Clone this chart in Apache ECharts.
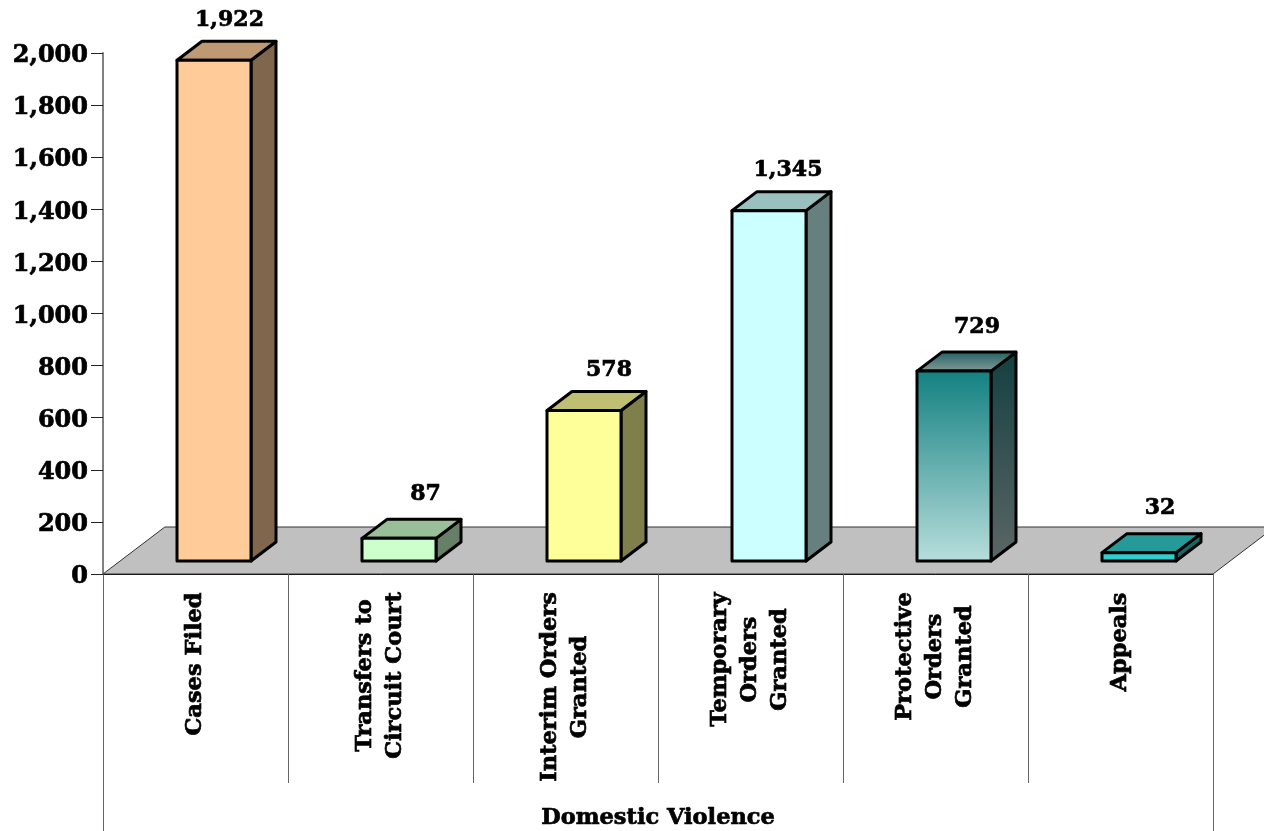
<!DOCTYPE html>
<html>
<head>
<meta charset="utf-8">
<style>html,body{margin:0;padding:0;background:#fff}#chart{width:1264px;height:831px}</style>
<script src="https://cdn.jsdelivr.net/npm/echarts@6/dist/echarts.min.js"></script>
</head>
<body>
<div id="chart"></div>
<script>
var categories = [
  ['Cases Filed'],
  ['Transfers to', 'Circuit Court'],
  ['Interim Orders', 'Granted'],
  ['Temporary', 'Orders', 'Granted'],
  ['Protective', 'Orders', 'Granted'],
  ['Appeals']
];
var values = [1922, 87, 578, 1345, 729, 32];
var groupLabel = ['Domestic Violence'];
var yTicks = { min: 0, max: 2000, step: 200 };
var frontColors = ['#FFCC99', '#CCFFCC', '#FFFF99', '#CCFFFF', null, '#33CCCC'];
var topColors = ['#BF9973', '#99BF99', '#BFBF73', '#99BFBF', null, '#269999'];
var sideColors = ['#7F664C', '#667F66', '#7F7F4C', '#667F7F', null, '#196666'];
var labelShiftX = [15.5, 26.5, 25, 19, 23, 21];
var labelGap = [21, 25, 21, 21, 25, 25];

var FONT = '"DejaVu Serif"';
var axisFontSize = 24;
var valueFontSize = 22;
var catFontSize = 22.5;
var heavy = 0.7;
var depthX = 25, depthY = 19, floorLift = 13, barShift = 18.5, barW = 74, floorDepth = 47;

function vgrad(a, b) {
  return new echarts.graphic.LinearGradient(0, 0, 0, 1, [{offset: 0, color: a}, {offset: 1, color: b}]);
}
function fmt(v) { return String(v).replace(/\B(?=(\d{3})+$)/g, ','); }

var measureCtx = document.createElement('canvas').getContext('2d');
function textWidth(s) {
  measureCtx.font = 'bold ' + catFontSize + 'px ' + FONT;
  return Math.ceil(measureCtx.measureText(s).width);
}
var rich = {};
categories.forEach(function (lines, i) {
  rich['c' + i] = {
    width: Math.max.apply(null, lines.map(textWidth)) + 2,
    align: 'center',
    fontFamily: FONT, fontWeight: 'bold', fontSize: catFontSize, color: '#000', lineHeight: 30,
    textBorderColor: '#000', textBorderWidth: heavy
  };
});
var catNames = categories.map(function (l) { return l.join('\n'); });

var option = {
  animation: false,
  backgroundColor: '#fff',
  grid: { left: 103, top: 53, width: 1110, height: 521, containLabel: false },
  xAxis: [{
    type: 'category',
    data: catNames,
    boundaryGap: true,
    position: 'bottom',
    axisLine: { show: true, lineStyle: { color: '#000', width: 1 } },
    axisTick: { show: true, length: 209, lineStyle: { color: '#666', width: 1 } },
    axisLabel: {
      interval: 0, rotate: 90, align: 'right', verticalAlign: 'middle', margin: 17,
      formatter: function (name) {
        var i = catNames.indexOf(name);
        return categories[i].map(function (s) { return '{c' + i + '|' + s + '}'; }).join('\n');
      },
      rich: rich
    }
  }, {
    type: 'category',
    data: groupLabel,
    position: 'bottom',
    axisLine: { show: false },
    axisTick: { show: true, length: 257, lineStyle: { color: '#666', width: 1 } },
    axisLabel: {
      margin: 233, color: '#000',
      fontFamily: FONT, fontWeight: 'bold', fontSize: catFontSize,
      textBorderColor: '#000', textBorderWidth: heavy
    }
  }],
  yAxis: {
    type: 'value',
    min: yTicks.min, max: yTicks.max, interval: yTicks.step,
    axisLine: { show: true, lineStyle: { color: '#808080', width: 2 } },
    axisTick: { show: true, length: 12, lineStyle: { color: '#222', width: 1 } },
    splitLine: { show: false },
    axisLabel: {
      margin: 15,
      formatter: function (v) { return '{n|' + fmt(v) + '}'; },
      rich: {
        n: {
          color: '#000', fontFamily: FONT, fontWeight: 'bold', fontSize: axisFontSize,
          padding: [6, 0, 0, 0],
          textBorderColor: '#000', textBorderWidth: heavy
        }
      }
    }
  },
  series: [{
    type: 'custom',
    name: 'floor',
    coordinateSystem: 'cartesian2d',
    data: [[0, 0]],
    z: 1,
    silent: true,
    renderItem: function (params, api) {
      var c = params.coordSys;
      var b = c.y + c.height;
      var dx = floorDepth * depthX / depthY;
      return {
        type: 'polygon',
        shape: { points: [[c.x, b], [c.x + c.width, b], [c.x + c.width + dx, b - floorDepth], [c.x + dx, b - floorDepth]] },
        style: { fill: '#C0C0C0', stroke: '#333', lineWidth: 1 }
      };
    }
  }, {
    type: 'custom',
    name: 'Domestic Violence',
    coordinateSystem: 'cartesian2d',
    data: values.map(function (v, i) { return [i, v]; }),
    encode: { x: 0, y: 1 },
    z: 3,
    silent: true,
    renderItem: function (params, api) {
      var i = api.value(0), v = api.value(1);
      var base = api.coord([i, 0]);
      var topPt = api.coord([i, v]);
      var x0 = base[0] + barShift - barW / 2, x1 = x0 + barW;
      var yb = base[1] - floorLift, yt = topPt[1] - floorLift;
      var front = frontColors[i] || vgrad('#128080', '#B8DEDC');
      var topC = topColors[i] || vgrad('#1F5F5F', '#8A9C9C');
      var side = sideColors[i] || vgrad('#134040', '#5C6666');
      var st = { stroke: '#000', lineWidth: 3, lineJoin: 'round' };
      function face(pts, fill) {
        return { type: 'polygon', shape: { points: pts }, style: Object.assign({ fill: fill }, st) };
      }
      return {
        type: 'group',
        children: [
          face([[x1, yt], [x1 + depthX, yt - depthY], [x1 + depthX, yb - depthY], [x1, yb]], side),
          face([[x0, yt], [x0 + depthX, yt - depthY], [x1 + depthX, yt - depthY], [x1, yt]], topC),
          face([[x0, yt], [x1, yt], [x1, yb], [x0, yb]], front),
          {
            type: 'text',
            style: {
              x: (x0 + x1) / 2 + labelShiftX[i], y: yt - depthY - labelGap[i],
              text: fmt(v), align: 'center', verticalAlign: 'middle',
              fontFamily: FONT, fontWeight: 'bold', fontSize: valueFontSize, fill: '#000',
              stroke: '#000', lineWidth: heavy
            }
          }
        ]
      };
    }
  }]
};
var chart = echarts.init(document.getElementById('chart'), null, { renderer: 'canvas' });
chart.setOption(option);
</script>
</body>
</html>
